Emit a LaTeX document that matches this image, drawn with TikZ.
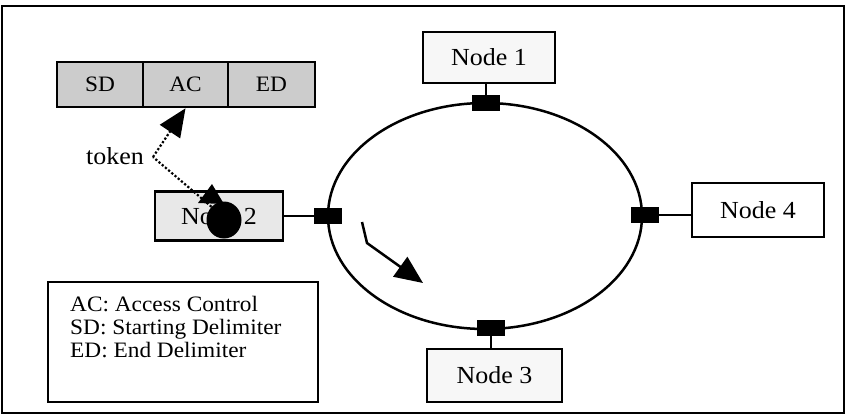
\documentclass[tikz,border=0pt]{standalone}
\usepackage{fontspec}
\setmainfont{Liberation Serif}[FakeStretch=1.06]
\usetikzlibrary{arrows.meta,shapes.geometric}
\definecolor{framegray}{gray}{0.8}
\definecolor{nodetwogray}{gray}{0.91}
\definecolor{lightspeck}{gray}{0.97}
\begin{document}
\begin{tikzpicture}[x=1pt,y=-1pt,
  box/.style={draw=black,line width=2.8pt,inner sep=0pt,font=\fontsize{24.5}{28}\selectfont},
  field/.style={draw=black,line width=2.6pt,fill=framegray,minimum height=45pt,font=\fontsize{22}{26}\selectfont,inner sep=0pt},
  port/.style={fill=black,minimum width=28pt,minimum height=16pt,inner sep=0pt},
  wire/.style={line width=2pt},
  bigtip/.style={-{Triangle[length=28pt,width=24pt]}},
]
\useasboundingbox (0,0) rectangle (847,416);
\draw[line width=1.8pt] (2,6) rectangle (844,413);

% frame fields
\node[field,minimum width=86pt] (sd) at (100,84.5) {SD};
\node[field,minimum width=85pt] (ac) at (185.5,84.5) {AC};
\node[field,minimum width=87pt] (ed) at (271.5,84.5) {ED};

% ring
\node[draw,ellipse,line width=2.5pt,minimum width=314pt,minimum height=226pt,inner sep=0pt] (ring) at (485,216) {};

% stations
\node[box,fill=lightspeck,minimum width=132pt,minimum height=51pt] (n1) at (489,57.5) {Node 1};
\node[box,fill=nodetwogray,minimum width=128pt,minimum height=49pt] (n2) at (219,216) {Node 2};
\node[box,fill=lightspeck,minimum width=135pt,minimum height=53pt] (n3) at (494.5,375.5) {Node 3};
\node[box,fill=white,minimum width=132pt,minimum height=54pt] (n4) at (758,210) {Node 4};

\node[port] (p1) at (486,103) {};
\node[port] (p2) at (328,216) {};
\node[port] (p3) at (491,328) {};
\node[port] (p4) at (645,215) {};

\draw[wire] (n1.south -| p1) -- (p1);
\draw[wire] (n2.east) -- (p2);
\draw[wire] (n3.north -| p3) -- (p3);
\draw[wire] (p4) -- (p4 -| n4.west);

% token
\node[ellipse,fill=black,minimum width=35pt,minimum height=37pt,inner sep=0pt] (tok) at (224,220) {};
\fill (212,184) -- (198,203) -- (224,204) -- cycle;
\node[font=\fontsize{24.5}{28}\selectfont,inner sep=0pt] (toklbl) at (115,156) {token};
\coordinate (corner) at (153,157);
\draw[line width=2.2pt,dotted] (tok.north west) -- (corner);
\draw[line width=2.2pt,dotted,bigtip] (corner) -- (ac.south);

% rotation arrow
\coordinate (r0) at (362,222);
\coordinate (r1) at (367,243);
\coordinate (r2) at (423,283);
\draw[line width=2.5pt,bigtip] (r0) -- (r1) -- (r2);

% legend
\node[draw,line width=2.8pt,minimum width=270pt,minimum height=120pt,inner sep=0pt] (legend) at (183,342) {};
\node[anchor=north west,align=left,inner sep=0pt,font=\fontsize{22}{23}\selectfont] (legtext) at (70,296) {AC: Access Control\\SD: Starting Delimiter\\ED: End Delimiter};
\end{tikzpicture}
\end{document}
